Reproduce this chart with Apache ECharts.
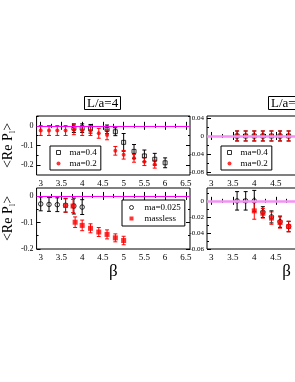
<!DOCTYPE html>
<html>
<head>
<meta charset="utf-8">
<script src="https://cdn.jsdelivr.net/npm/echarts@6/dist/echarts.min.js"></script>
<style>
html,body{margin:0;padding:0;background:#fff;overflow:hidden;}
#c{width:400px;height:382px;}
</style>
</head>
<body>
<div id="c"></div>
<script>
// ---------- data ----------
const xMajor = [3, 3.5, 4, 4.5, 5, 5.5, 6, 6.5];
const xMinor = [3.25, 3.75, 4.25, 4.75, 5.25, 5.75, 6.25];

// top-left, L/a=4
const tlBetaA = [3.8, 4.0, 4.2, 4.6, 4.8, 5.0, 5.25, 5.5, 5.75, 6.0];
const tlValA  = [-0.012, -0.012, -0.015, -0.018, -0.03, -0.084, -0.13, -0.153, -0.17, -0.188];
const tlErrA  = [0.022, 0.022, 0.022, 0.022, 0.02, 0.045, 0.035, 0.03, 0.03, 0.025];
const tlBetaB = [3.0, 3.2, 3.4, 3.6, 3.8, 4.0, 4.2, 4.4, 4.6, 4.8, 5.0, 5.25, 5.5, 5.75];
const tlValB  = [-0.024, -0.024, -0.024, -0.024, -0.02, -0.024, -0.024, -0.038, -0.046, -0.127, -0.147, -0.165, -0.182, -0.195];
const tlErrB  = [0.025, 0.025, 0.025, 0.025, 0.025, 0.025, 0.025, 0.025, 0.025, 0.022, 0.022, 0.02, 0.02, 0.02];

// bottom-left, L/a=4
const blBetaA = [3.0, 3.2, 3.4, 3.6, 3.8, 4.0];
const blValA  = [-0.03, -0.032, -0.033, -0.035, -0.038, -0.042];
const blErrA  = [0.026, 0.026, 0.026, 0.026, 0.03, 0.028];
const blBetaB = [3.6, 3.78, 3.83, 4.0, 4.2, 4.4, 4.6, 4.8, 5.0];
const blValB  = [-0.036, -0.038, -0.099, -0.111, -0.122, -0.136, -0.145, -0.158, -0.168];
const blErrB  = [0.025, 0.025, 0.02, 0.02, 0.017, 0.017, 0.017, 0.015, 0.016];

// top-right
const trBetaA = [3.6, 3.8, 4.0, 4.2, 4.4, 4.6, 4.8];
const trValA  = [0, 0, 0, 0, 0, 0, 0];
const trErrA  = [0.011, 0.011, 0.011, 0.011, 0.011, 0.011, 0.011];
const trBetaB = [3.6, 3.8, 4.0, 4.2, 4.4, 4.6, 4.8];
const trValB  = [0, 0, 0, 0, 0, 0, 0];
const trErrB  = [0.011, 0.011, 0.011, 0.011, 0.011, 0.011, 0.011];

// bottom-right
const brBetaA = [3.6, 3.8, 4.0, 4.2, 4.4, 4.6, 4.8];
const brValA  = [0, 0, 0, -0.014, -0.02, -0.026, -0.032];
const brErrA  = [0.0115, 0.0115, 0.013, 0.0067, 0.0075, 0.007, 0.0065];
const brBetaB = [4.0, 4.2, 4.4, 4.6, 4.8];
const brValB  = [-0.0125, -0.0155, -0.0215, -0.027, -0.032];
const brErrB  = [0.0104, 0.006, 0.0077, 0.007, 0.0065];

// y tick labels
const tlYMajor = [0, -0.1, -0.2];       const tlYMinor = [0.05, -0.05, -0.15];
const blYMajor = [0, -0.1, -0.2];       const blYMinor = [-0.05, -0.15];
const trYMajor = [0.04, 0, -0.04, -0.08]; const trYMinor = [0.02, -0.02, -0.06];
const brYMajor = [0, -0.02, -0.04, -0.06]; const brYMinor = [0.01, -0.01, -0.03, -0.05];

// ---------- layout ----------
const FONT = "'Liberation Serif','DejaVu Serif',serif";
const grids = [
  {left: 31, top: 116, width: 159, height: 59},
  {left: 31, top: 188, width: 159, height: 61},
  {left: 207, top: 116, width: 159, height: 59},
  {left: 207, top: 188, width: 159, height: 61}
];
const yRanges = [[-0.25, 0.05], [-0.2, 0.03], [-0.086, 0.044], [-0.06, 0.016]];
const yMaj = [tlYMajor, blYMajor, trYMajor, brYMajor];
const yMin = [tlYMinor, blYMinor, trYMinor, brYMinor];
const yFont = [8, 8, 7, 7];

const fmt = v => String(Math.round(v * 1000) / 1000);
const xAxis = [], yAxis = [];
grids.forEach((g, gi) => {
  const bottomGrid = gi === 1 || gi === 3;
  const base = {type: 'value', gridIndex: gi, min: 2.9, max: 6.6, splitLine: {show: false},
    axisLine: {show: false}};
  xAxis.push(Object.assign({}, base, {position: 'bottom',
    axisTick: {show: true, inside: true, length: 4, customValues: xMajor, lineStyle: {color: '#000'}},
    axisLabel: {show: true, customValues: xMajor, formatter: fmt, margin: 4, fontSize: 9, fontFamily: FONT, color: '#000'},
    name: bottomGrid ? 'β' : '', nameLocation: 'middle', nameGap: 12,
    nameTextStyle: {fontFamily: FONT, fontSize: 17, color: '#000'}}));
  xAxis.push(Object.assign({}, base, {position: 'bottom',
    axisTick: {show: true, inside: true, length: 2, customValues: xMinor, lineStyle: {color: '#000'}},
    axisLabel: {show: false}}));
  xAxis.push(Object.assign({}, base, {position: 'top',
    axisTick: {show: true, inside: true, length: 4, customValues: xMajor, lineStyle: {color: '#000'}},
    axisLabel: {show: false}}));
  xAxis.push(Object.assign({}, base, {position: 'top',
    axisTick: {show: true, inside: true, length: 2, customValues: xMinor, lineStyle: {color: '#000'}},
    axisLabel: {show: false}}));

  const ybase = {type: 'value', gridIndex: gi, min: yRanges[gi][0], max: yRanges[gi][1],
    splitLine: {show: false}, axisLine: {show: false}};
  const leftGrid = gi === 0 || gi === 1;
  yAxis.push(Object.assign({}, ybase, {position: 'left',
    axisTick: {show: true, inside: true, length: 4, customValues: yMaj[gi], lineStyle: {color: '#000'}},
    axisLabel: {show: true, customValues: yMaj[gi], formatter: fmt, margin: 3, fontSize: yFont[gi], fontFamily: FONT, color: '#000'},
    name: leftGrid ? '<Re P{s|l}>' : '', nameLocation: 'middle', nameGap: 15, nameRotate: 90,
    nameTextStyle: {fontFamily: FONT, fontSize: 14, color: '#000',
      rich: {s: {fontFamily: FONT, fontSize: 9, color: '#000', padding: [9, 0, 0, 0]}}}}));
  yAxis.push(Object.assign({}, ybase, {position: 'left',
    axisTick: {show: true, inside: true, length: 2, customValues: yMin[gi], lineStyle: {color: '#000'}},
    axisLabel: {show: false}}));
  yAxis.push(Object.assign({}, ybase, {position: 'right',
    axisTick: {show: true, inside: true, length: 4, customValues: yMaj[gi], lineStyle: {color: '#000'}},
    axisLabel: {show: false}}));
  yAxis.push(Object.assign({}, ybase, {position: 'right',
    axisTick: {show: true, inside: true, length: 2, customValues: yMin[gi], lineStyle: {color: '#000'}},
    axisLabel: {show: false}}));
});

function errRender(params, api) {
  const x = api.value(0), lo = api.value(1), hi = api.value(2);
  const p1 = api.coord([x, lo]), p2 = api.coord([x, hi]);
  const c = api.visual('color');
  const w = 2;
  const st = {stroke: c, lineWidth: 1};
  return {type: 'group', children: [
    {type: 'line', shape: {x1: p1[0], y1: p1[1], x2: p2[0], y2: p2[1]}, style: st},
    {type: 'line', shape: {x1: p1[0] - w, y1: p1[1], x2: p1[0] + w, y2: p1[1]}, style: st},
    {type: 'line', shape: {x1: p2[0] - w, y1: p2[1], x2: p2[0] + w, y2: p2[1]}, style: st}
  ]};
}
const errData = (b, v, e) => b.map((x, i) => [x, v[i] - e[i], v[i] + e[i]]);
const ptData = (b, v) => b.map((x, i) => [x, v[i]]);

const series = [];
function addGroup(gi, name, betas, vals, errs, color, symbol, size, hollow) {
  series.push({type: 'custom', name: name + '_err', xAxisIndex: 4 * gi, yAxisIndex: 4 * gi,
    renderItem: errRender, data: errData(betas, vals, errs), itemStyle: {color: color}, z: 2, silent: true});
  series.push({type: 'scatter', name: name, xAxisIndex: 4 * gi, yAxisIndex: 4 * gi,
    data: ptData(betas, vals), symbol: symbol, symbolSize: size, z: 3, silent: true,
    itemStyle: hollow ? {color: 'rgba(0,0,0,0)', borderColor: color, borderWidth: 1} : {color: color}});
}
const pink = [['#ff00ff', 1], ['#ff00ff', 1], ['#f590f5', 2.5], ['#f590f5', 2.5]];
pink.forEach((p, gi) => {
  series.push({type: 'line', name: 'zero' + gi, xAxisIndex: 4 * gi, yAxisIndex: 4 * gi, data: [], z: 1,
    markLine: {silent: true, symbol: 'none', label: {show: false}, animation: false,
      lineStyle: {color: p[0], width: p[1], type: 'solid'}, data: [{yAxis: 0}]}});
});
addGroup(0, 'ma=0.4', tlBetaA, tlValA, tlErrA, '#000', 'rect', 4, true);
addGroup(0, 'ma=0.2', tlBetaB, tlValB, tlErrB, '#ff0000', 'circle', 4, false);
addGroup(1, 'ma=0.025', blBetaA, blValA, blErrA, '#000', 'circle', 4.5, true);
addGroup(1, 'massless', blBetaB, blValB, blErrB, '#ff0000', 'rect', 5, false);
addGroup(2, 'ma=0.4', trBetaA, trValA, trErrA, '#000', 'rect', 4, true);
addGroup(2, 'ma=0.2', trBetaB, trValB, trErrB, '#ff0000', 'circle', 4, false);
addGroup(3, 'ma=0.025', brBetaA, brValA, brErrA, '#000', 'circle', 4.5, true);
addGroup(3, 'massless', brBetaB, brValB, brErrB, '#ff0000', 'rect', 5, false);

const hollowSq = {color: '#fff', borderColor: '#000', borderWidth: 1};
const hollowCi = {color: '#fff', borderColor: '#000', borderWidth: 1};
const legBase = {orient: 'vertical', itemWidth: 4, itemHeight: 4, itemGap: 2, selectedMode: false,
  borderColor: '#000', borderWidth: 1, backgroundColor: '#fff', padding: [2, 4, 2, 6],
  textStyle: {fontFamily: FONT, fontSize: 9, color: '#000', padding: [0, 0, 0, 4]}};
const legend = [
  Object.assign({}, legBase, {left: 50, top: 146, data: [
    {name: 'ma=0.4', icon: 'rect', itemStyle: hollowSq},
    {name: 'ma=0.2', icon: 'circle', itemStyle: {color: '#ff0000'}}]}),
  Object.assign({}, legBase, {left: 122, top: 200, padding: [3, 4, 3, 7],
    textStyle: Object.assign({}, legBase.textStyle, {padding: [0, 0, 0, 6]}), data: [
    {name: 'ma=0.025', icon: 'circle', itemStyle: hollowCi},
    {name: 'massless', icon: 'rect', itemStyle: {color: '#ff0000'}}]}),
  Object.assign({}, legBase, {left: 221, top: 146, data: [
    {name: 'ma=0.4', icon: 'rect', itemStyle: hollowSq},
    {name: 'ma=0.2', icon: 'circle', itemStyle: {color: '#ff0000'}}]})
];

const titleBase = {top: 96, borderColor: '#000', borderWidth: 1, padding: [1, 3, 0, 3],
  textStyle: {fontFamily: FONT, fontSize: 13, fontWeight: 'normal', color: '#000'}};
const title = [
  Object.assign({}, titleBase, {text: 'L/a=4', left: 84}),
  Object.assign({}, titleBase, {text: 'L/a=6', left: 268})
];

const chart = echarts.init(document.getElementById('c'), null, {renderer: 'canvas'});
chart.setOption({
  animation: false,
  backgroundColor: '#fff',
  title: title,
  legend: legend,
  grid: grids.map(g => Object.assign({show: true, borderColor: '#000', borderWidth: 1, backgroundColor: 'transparent'}, g)),
  xAxis: xAxis,
  yAxis: yAxis,
  series: series
});
</script>
</body>
</html>
